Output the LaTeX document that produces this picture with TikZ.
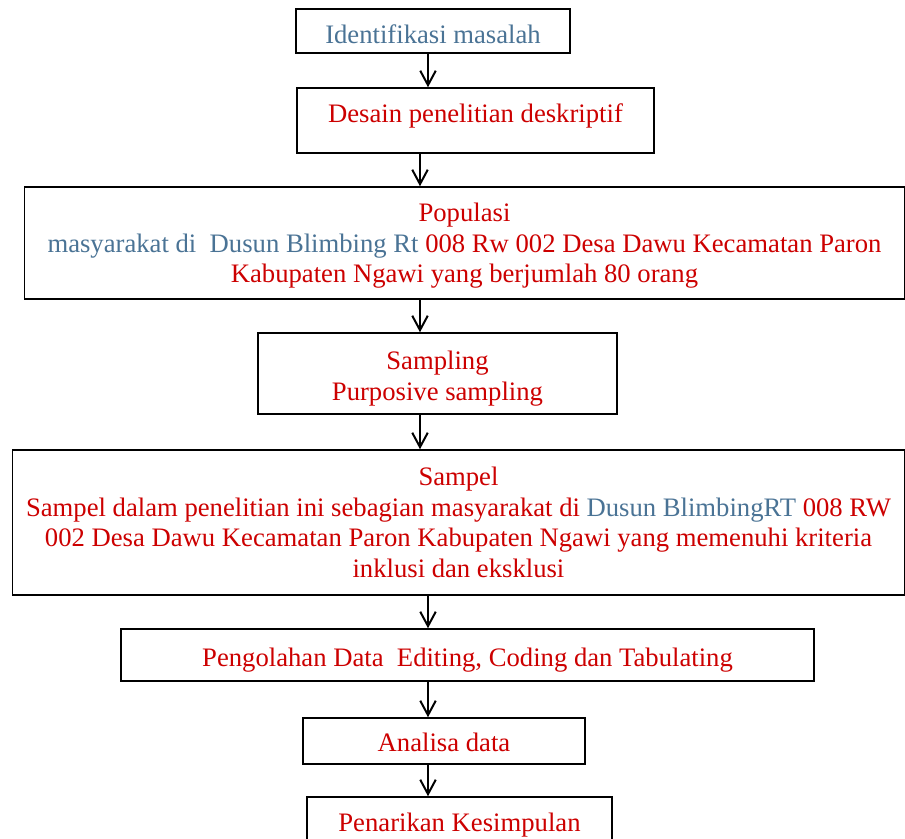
\documentclass[tikz,border=0pt]{standalone}
\usepackage{fontspec}
\setmainfont{Liberation Serif}
\usepackage{xcolor}
\definecolor{txtred}{HTML}{CC0000}
\definecolor{txtblue}{HTML}{4A7395}
\usetikzlibrary{arrows.meta}
\newdimen\pxu
\pxu=0.45pt

\begin{document}
\begin{tikzpicture}[
  x=\pxu, y=-\pxu,
  box/.style={draw=black, line width=0.7pt, align=center, inner sep=0pt,
    font=\fontsize{12}{13.8}\selectfont, text=txtred},
  arr/.style={draw=black, line width=0.9pt,
    -{Straight Barb[length=6.5pt, width=7pt, line width=0.9pt]}},
]
  \useasboundingbox (0,0) rectangle (905,839);

  \node[box, minimum width=274\pxu, minimum height=44\pxu, text=txtblue, text height=11.8pt]
    (ident) at (433,31) {Identifikasi masalah};
  \node[box, minimum width=357\pxu, minimum height=65\pxu, text depth=6.7pt]
    (desain) at (475.5,120.5) {Desain penelitian deskriptif};
  \node[box, minimum width=880\pxu, minimum height=112\pxu]
    (populasi) at (464.5,243) {\rule{0pt}{10.9pt}Populasi\\
    \textcolor{txtblue}{masyarakat di\ \ Dusun Blimbing Rt} 008 Rw 002 Desa Dawu Kecamatan Paron\\
    Kabupaten Ngawi yang berjumlah 80 orang};
  \node[box, minimum width=359\pxu, minimum height=81\pxu]
    (sampling) at (437.5,373.5) {\rule{0pt}{12.7pt}Sampling\\ Purposive sampling};
  \node[box, minimum width=892\pxu, minimum height=145\pxu]
    (sampel) at (458.5,522.5) {Sampel\\
    Sampel dalam penelitian ini sebagian masyarakat di \textcolor{txtblue}{Dusun BlimbingRT} 008 RW\\
    002 Desa Dawu Kecamatan Paron Kabupaten Ngawi yang memenuhi kriteria\\
    inklusi dan eksklusi};
  \node[box, minimum width=693\pxu, minimum height=52\pxu, text height=12.7pt]
    (olah) at (467.5,655) {Pengolahan Data\ \ Editing, Coding dan Tabulating};
  \node[box, minimum width=282\pxu, minimum height=46\pxu, text height=10pt]
    (analisa) at (444,741) {Analisa data};
  \node[box, minimum width=305\pxu, minimum height=50\pxu, text height=10.9pt]
    (simpul) at (459.5,822) {Penarikan Kesimpulan};

  % arrow columns
  \coordinate (colA) at (428,0);
  \coordinate (colB) at (420,0);

  \draw[arr] (ident.south -| colA) -- (desain.north -| colA);
  \draw[arr] (desain.south -| colB) -- (populasi.north -| colB);
  \draw[arr] (populasi.south -| colB) -- (sampling.north -| colB);
  \draw[arr] (sampling.south -| colB) -- (sampel.north -| colB);
  \draw[arr] (sampel.south -| colA) -- (olah.north -| colA);
  \draw[arr] (olah.south -| colA) -- (analisa.north -| colA);
  \draw[arr] (analisa.south -| colA) -- (simpul.north -| colA);
\end{tikzpicture}
\end{document}
